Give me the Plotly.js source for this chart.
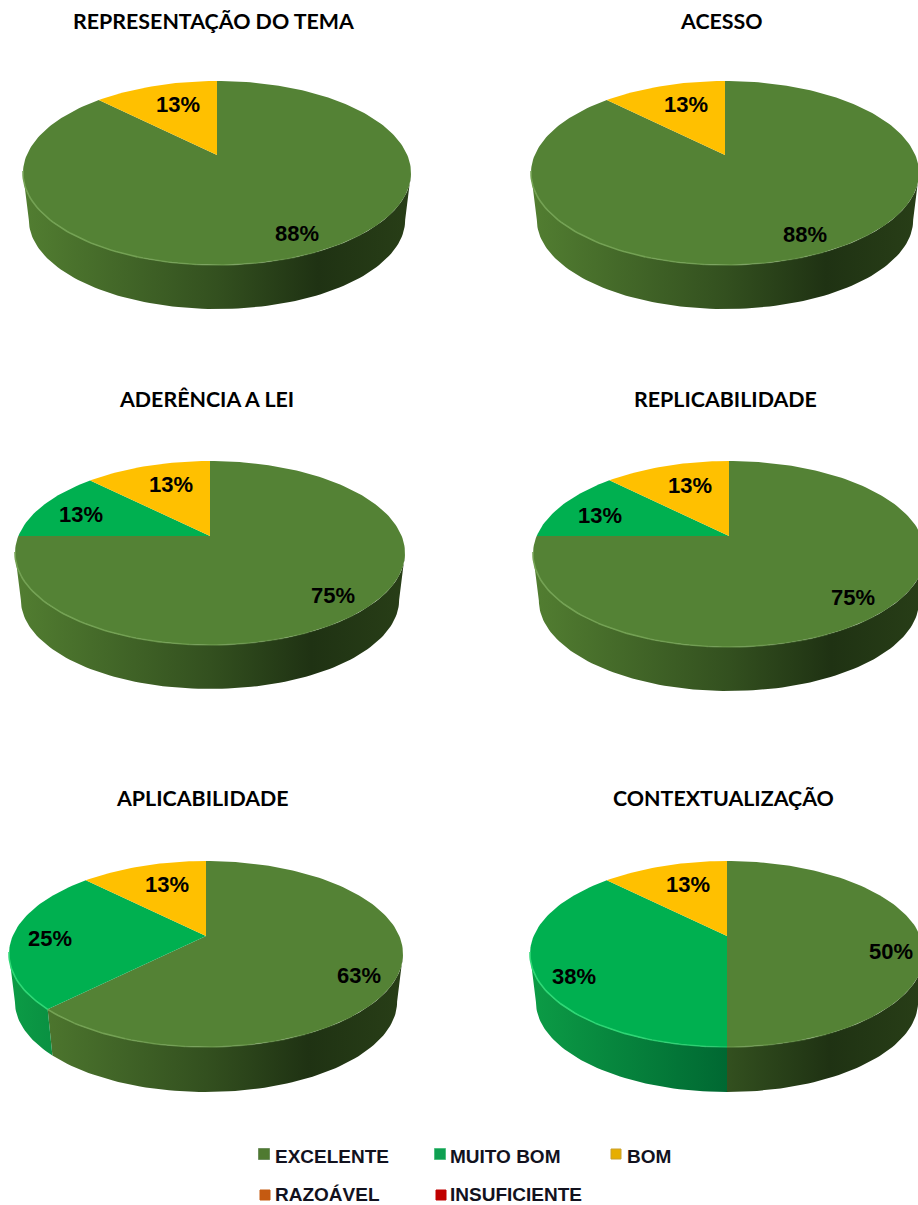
<!DOCTYPE html>
<html>
<head>
<meta charset="utf-8">
<script src="https://cdn.plot.ly/plotly-3.0.1.min.js"></script>
<style>html,body{margin:0;padding:0;background:#fff}#chart{width:918px;height:1205px}</style>
</head>
<body>
<div id="chart"></div>
<script>
// Survey ratings per criterion, in percent.
const categories = ['EXCELENTE', 'MUITO BOM', 'BOM', 'RAZOÁVEL', 'INSUFICIENTE'];
const criteria = ['REPRESENTAÇÃO DO TEMA', 'ACESSO', 'ADERÊNCIA A LEI', 'REPLICABILIDADE', 'APLICABILIDADE', 'CONTEXTUALIZAÇÃO'];
const excelente = [87.5, 87.5, 75, 75, 62.5, 50];
const muitoBom = [0, 0, 12.5, 12.5, 25, 37.5];
const bom = [12.5, 12.5, 12.5, 12.5, 12.5, 12.5];
const razoavel = [0, 0, 0, 0, 0, 0];
const insuficiente = [0, 0, 0, 0, 0, 0];
const seriesValues = [excelente, muitoBom, bom, razoavel, insuficiente];

// Page layout of each tilted pie: apex position, top-face radii, wall depth, title centre.
const frames = [
  {ax: 217, ay: 155, top: 81, rx: 194, ry: 92, wall: 44, tx: 213, ty: 21},
  {ax: 725, ay: 155, top: 81, rx: 194, ry: 92, wall: 44, tx: 721, ty: 21},
  {ax: 210, ay: 536, top: 461, rx: 195, ry: 92, wall: 44, tx: 206, ty: 399},
  {ax: 729, ay: 536, top: 461, rx: 196, ry: 93, wall: 44, tx: 725, ty: 399},
  {ax: 206, ay: 936, top: 861, rx: 197, ry: 93, wall: 45, tx: 202, ty: 798},
  {ax: 727, ay: 936, top: 861, rx: 197, ry: 93, wall: 45, tx: 723, ty: 798}
];
// Percent label centres, one per rating that has a slice.
const labelSpots = [
  [[297, 235.5], null, [178, 106.5]],
  [[805, 236.5], null, [686, 106.5]],
  [[333, 597.5], [81, 516], [171, 486.5]],
  [[853, 599.5], [600, 517], [690, 487.5]],
  [[359, 977.5], [50, 940], [167, 886.5]],
  [[891, 953], [574, 978.5], [688, 886.5]]
];

// Legend placement.
const legendSpots = [
  {mx: 264, my: 1154, ms: 11, tx: 275, ty: 1158.5},
  {mx: 440, my: 1154, ms: 11, tx: 450, ty: 1158.5},
  {mx: 616, my: 1154, ms: 10, tx: 627, ty: 1158.5},
  {mx: 265, my: 1195, ms: 10, tx: 275, ty: 1196.5},
  {mx: 441, my: 1195, ms: 10, tx: 450, ty: 1196.5}
];

const faceColors = ['#548235', '#00b050', '#ffc000', '#c55a11', '#c00000'];
const rimColors = ['#74a254', '#2fd876', '#ffd54f', '#e07a33', '#e03030'];
const legendColors = ['#4f7a30', '#0fa052', '#e6ae00', '#c55a11', '#c00000'];
const legendEdges = ['#6f8f5f', '#4fbf80', '#c9a030', '#c55a11', '#c00000'];
const wallScales = [
  [[0, '#527e31'], [0.5, '#33501f'], [0.76, '#1f3213'], [1, '#283e17']],
  [[0, '#0c9c46'], [0.5, '#006832'], [0.76, '#004f25'], [1, '#005a2a']],
  [[0, '#d09c00'], [0.5, '#a67c00'], [0.76, '#7f5f00'], [1, '#8f6c00']],
  [[0, '#a04a0e'], [1, '#5e2c08']],
  [[0, '#a00000'], [1, '#5a0000']]
];

const ARC_STEP = 1.5;
const WALL_SCALE = 0.97;
const rad = d => d * Math.PI / 180;

// Perspective view of the pie's circular face: clockwise degrees from 12 o'clock to page coordinates.
function facePoint(f, deg, scale = 1, drop = 0) {
  const midY = f.top + f.ry;              // ellipse centre line
  const lift = midY - f.ay;               // how far the apex sits above that line
  const k = lift / f.ry;
  const u = Math.sin(rad(deg)), v = Math.cos(rad(deg));
  const w = 1 + k * v;
  const halfChord = f.rx * Math.sqrt(1 - k * k);
  return [
    f.ax + scale * halfChord * u / w,
    midY - scale * (f.ry * v + lift) / w + drop
  ];
}

function arc(f, from, to, scale, drop) {
  const n = Math.max(1, Math.ceil(Math.abs(to - from) / ARC_STEP));
  const pts = [];
  for (let i = 0; i <= n; i++) pts.push(facePoint(f, from + (to - from) * i / n, scale, drop));
  return pts;
}

const traces = [];
const polygon = (pts, extra) => traces.push(Object.assign({
  type: 'scatter', mode: 'lines', x: pts.map(p => p[0]), y: pts.map(p => p[1]),
  fill: 'toself', line: {width: 0}, hoverinfo: 'skip', showlegend: false
}, extra));

frames.forEach((f, i) => {
  const shares = seriesValues.map(s => s[i]);
  const bottomY = f.top + 2 * f.ry + f.wall;
  const wallDrop = bottomY - facePoint(f, 180, WALL_SCALE)[1];

  // Silhouette limit: the rim is widest where v = -k in the perspective map.
  const k = (f.top + f.ry - f.ay) / f.ry;
  const widest = Math.acos(-k) * 180 / Math.PI;

  // Cylinder wall between the two widest rim points.
  let start = 0;
  shares.forEach((share, c) => {
    const end = start + share * 3.6;
    const a = Math.max(start, widest), b = Math.min(end, 360 - widest);
    if (share > 0 && b > a) {
      const upper = arc(f, a, b, 1, 0);
      const lower = arc(f, b, a, WALL_SCALE, wallDrop);
      polygon(upper.concat(lower), {
        fillgradient: {
          type: 'horizontal',
          start: f.ax - f.rx, stop: f.ax + f.rx,
          colorscale: wallScales[c]
        }
      });
    }
    start = end;
  });

  // Top face slices, clockwise from 12 o'clock.
  start = 0;
  shares.forEach((share, c) => {
    if (share > 0) {
      const end = start + share * 3.6;
      const pts = [[f.ax, f.ay]].concat(arc(f, start, end, 1, 0));
      polygon(pts, {fillcolor: faceColors[c]});
      start = end;
    }
  });

  // Highlight along the front rim, fading toward the right.
  start = 0;
  shares.forEach((share, c) => {
    const end = start + share * 3.6;
    if (share > 0) {
      for (let seg = 260; seg > 140; seg -= 15) {
        const a = Math.max(start, seg - 15), b = Math.min(end, seg);
        if (b > a) {
          const pts = arc(f, a, b, 1, 0);
          traces.push({
            type: 'scatter', mode: 'lines', x: pts.map(p => p[0]), y: pts.map(p => p[1]),
            line: {color: rimColors[c], width: 1.6},
            opacity: Math.max(0, Math.min(1, (seg - 140) / 80)),
            hoverinfo: 'skip', showlegend: false
          });
        }
      }
    }
    start = end;
  });

  // Percent labels come straight from the slice values.
  const spots = labelSpots[i];
  shares.forEach((share, c) => {
    if (share > 0 && spots[c]) {
      traces.push({
        type: 'scatter', mode: 'text', x: [spots[c][0]], y: [spots[c][1]],
        text: [Math.round(share) + '%'], textposition: 'middle center',
        textfont: {family: '"Liberation Sans", Arial, sans-serif', size: 22, color: '#000', weight: 700},
        hoverinfo: 'skip', showlegend: false
      });
    }
  });
});

// Legend swatches and names.
categories.forEach((name, c) => {
  const l = legendSpots[c];
  traces.push({
    type: 'scatter', mode: 'markers', x: [l.mx], y: [l.my],
    marker: {symbol: 'square', size: l.ms, color: legendColors[c], line: {color: legendEdges[c], width: 1}},
    hoverinfo: 'skip', showlegend: false
  });
  traces.push({
    type: 'scatter', mode: 'text', x: [l.tx], y: [l.ty],
    text: [name], textposition: 'middle right', cliponaxis: false,
    textfont: {family: '"Liberation Sans", Arial, sans-serif', size: 19, color: '#12121e', weight: 700},
    hoverinfo: 'skip', showlegend: false
  });
});

const annotations = frames.map((f, i) => ({
  xref: 'x', yref: 'y', x: f.tx, y: f.ty, text: '<b>' + criteria[i] + '</b>',
  showarrow: false, xanchor: 'center', yanchor: 'middle',
  font: {family: 'Lato, "Open Sans", sans-serif', size: 21.4, color: '#000'}
}));

Plotly.newPlot('chart', traces, {
  width: 918, height: 1205,
  margin: {l: 0, r: 0, t: 0, b: 0},
  paper_bgcolor: '#fff', plot_bgcolor: '#fff',
  showlegend: false,
  xaxis: {range: [0, 918], visible: false, fixedrange: true},
  yaxis: {range: [1205, 0], visible: false, fixedrange: true},
  annotations
}, {displayModeBar: false, staticPlot: true});
</script>
</body>
</html>
